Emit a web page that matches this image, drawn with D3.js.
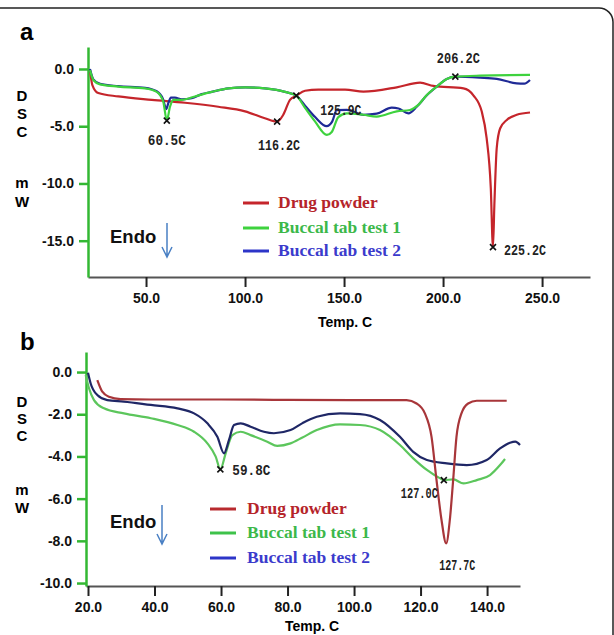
<!DOCTYPE html>
<html>
<head>
<meta charset="utf-8">
<script src="https://cdn.jsdelivr.net/npm/d3@7"></script>
<style>
  body { margin: 0; background: #fff; }
  svg { display: block; font-family: "Liberation Sans", Arial, sans-serif; }
</style>
</head>
<body>
<div id="chart"></div>
<script>
// ---- panel a data ----
const aXTicks = [50, 100, 150, 200, 250]
const aYTicks = [0, -5, -10, -15]
const aDrugT = [21.7, 22.9, 25.9, 36, 52.9, 69.7, 86.5, 100, 110, 116.2, 119.3, 122.7, 125.9, 130.3, 137, 150.5, 159.8, 176.6, 188.4, 195.1, 210.3, 215.3, 219.5, 222, 224.1, 225.2, 225.9, 227.1, 228.8, 232.2, 237.2, 243.9]
const aDrugV = [-0.1, -1.4, -2.1, -2.4, -2.7, -2.95, -3.3, -3.7, -4.3, -4.6, -4.0, -2.7, -2.33, -1.9, -1.8, -1.8, -1.98, -1.6, -1.2, -1.48, -1.7, -2.3, -3.7, -6.05, -10.4, -15.56, -11.9, -6.9, -5.2, -4.45, -4.0, -3.8]
const aTest1T = [21.7, 23.4, 26.8, 36, 49.5, 55.4, 58.7, 60.5, 62.1, 63.8, 68, 74.7, 83.2, 91.6, 100, 110.1, 120.2, 125.9, 130.3, 135.4, 141.3, 143.8, 147.1, 151.4, 159.8, 166.5, 176.6, 183.3, 187.5, 191.8, 196.8, 201.9, 206.2, 218.7, 243.9]
const aTest1V = [-0.1, -0.96, -1.34, -1.54, -1.7, -2.0, -2.85, -4.5, -3.3, -2.7, -2.7, -2.4, -2.0, -1.7, -1.6, -1.7, -2.0, -2.33, -3.4, -4.6, -5.76, -5.5, -4.2, -3.87, -4.0, -4.16, -3.7, -3.58, -3.14, -2.27, -1.54, -0.87, -0.67, -0.58, -0.52]
const aTest2T = [21.7, 23.4, 26.8, 36, 49.5, 55.4, 58.5, 60.3, 61.2, 62.6, 64.6, 68, 73.1, 78.1, 83.2, 91.6, 100, 110.1, 120.2, 125.9, 130.3, 135.4, 141.2, 144, 146.3, 151.4, 159.8, 166.5, 174.1, 177.5, 182.5, 186.7, 191.8, 196.8, 201.9, 206.2, 218.7, 227.1, 237.2, 241, 243.9]
const aTest2V = [0, -0.9, -1.3, -1.5, -1.65, -1.95, -2.6, -3.5, -3.0, -2.5, -2.5, -2.65, -2.56, -2.2, -2.0, -1.7, -1.6, -1.7, -2.0, -2.33, -3.2, -4.2, -5.0, -4.6, -3.6, -3.58, -4.0, -3.9, -3.38, -3.45, -3.87, -3.3, -2.3, -1.54, -0.87, -0.67, -0.76, -0.87, -1.25, -1.28, -0.96]
const aMarkT = [60.5, 116.2, 125.9, 206.2, 225.2]
const aMarkV = [-4.51, -4.6, -2.33, -0.67, -15.56]

// ---- panel b data ----
const bXTicks = [20, 40, 60, 80, 100, 120, 140]
const bYTicks = [0, -2, -4, -6, -8, -10]
const bDrugT = [22.8, 24.3, 26.3, 29.8, 38.9, 60, 80, 100, 115.8, 118.8, 121.3, 123.3, 124.8, 126.3, 127.7, 128.8, 129.8, 130.8, 132.3, 134.3, 136.9, 145.9]
const bDrugV = [-0.38, -0.93, -1.17, -1.28, -1.3, -1.3, -1.32, -1.33, -1.33, -1.49, -1.96, -3.07, -5.12, -7.01, -8.12, -7.01, -5.12, -3.07, -1.96, -1.49, -1.36, -1.36]
const bTest1T = [19.3, 20.3, 21.8, 24.8, 30.8, 38.9, 46.9, 51.9, 55.9, 58.4, 59.8, 61.4, 63.4, 65.9, 68.9, 73.9, 76.9, 80.9, 84.5, 88.8, 95.8, 101.8, 107.8, 113.8, 117.8, 121.9, 125.9, 127, 129.9, 132.9, 136.9, 140.9, 143.9, 145.4]
const bTest1V = [-0.14, -0.77, -1.33, -1.72, -1.96, -2.19, -2.51, -2.83, -3.38, -4.01, -4.61, -3.85, -2.99, -2.83, -2.99, -3.3, -3.5, -3.38, -3.1, -2.75, -2.48, -2.51, -2.75, -3.46, -4.09, -4.64, -5.04, -5.12, -5.09, -5.28, -5.12, -4.88, -4.41, -4.12]
const bTest2T = [20, 20.8, 22.8, 25.8, 30.8, 38.9, 46.9, 51.9, 55.9, 58.9, 60.9, 62.4, 63.9, 65.9, 68.9, 72.9, 75.9, 80.9, 84.5, 88.8, 95.8, 101.8, 107.8, 113.8, 117.8, 121.9, 127.9, 133.9, 139.9, 143.9, 146.9, 148.5, 149.9]
const bTest2V = [-0.03, -0.54, -1.09, -1.33, -1.4, -1.56, -1.72, -1.96, -2.43, -3.07, -3.85, -3.22, -2.51, -2.43, -2.59, -2.83, -2.9, -2.75, -2.42, -2.12, -1.96, -1.99, -2.27, -3.07, -3.78, -4.17, -4.33, -4.41, -4.17, -3.62, -3.35, -3.3, -3.46]
const bMarkT = [59.8, 127.0, 127.7]
const bMarkV = [-4.61, -5.12, -8.12]

const legendNames = ["Drug powder", "Buccal tab test 1", "Buccal tab test 2"]

// ---- layout / style ----
const width = 614
const height = 635

// plain hyphen minus, like the original plot
const fmt = d => d3.format(".1f")(d).replace("\u2212", "-")

const svg = d3.select("#chart")
    .append("svg")
    .attr("width", width)
    .attr("height", height)

// outer rounded frame
svg.append("rect")
    .attr("x", -14).attr("y", 8)
    .attr("width", 627).attr("height", 700)
    .attr("rx", 14)
    .style("fill", "none")
    .style("stroke", "#222")
    .style("stroke-width", 1.5)

const panels = [
  {
    letter: "a", letterPos: [20, 40],
    xDomain: [20.7, 274.2], xRange: [88, 590],
    yDomain: [-18.17, 1.92], yRange: [277, 47],
    xTicks: aXTicks, yTicks: aYTicks,
    series: [
      {t: aDrugT, v: aDrugV, color: "#c5252b"},
      {t: aTest2T, v: aTest2V, color: "#1f2a96"},
      {t: aTest1T, v: aTest1V, color: "#3ed23e"}
    ],
    legendColors: ["#c5252b", "#3ed23e", "#2d35c8"],
    legendTextColors: ["#b5242a", "#3cb84a", "#3b3bcc"],
    legendX: 243, legendY: [203, 228, 251], legendTextX: 278,
    marks: {t: aMarkT, v: aMarkV},
    markLayout: [
      {dx: 0, dy: 24, anchor: "middle", len: 38, show: true},
      {dx: 2, dy: 28, anchor: "middle", len: 42, show: true},
      {dx: 24, dy: 19, anchor: "start", len: 41, show: true},
      {dx: 3, dy: -14, anchor: "middle", len: 43, show: true},
      {dx: 11, dy: 8, anchor: "start", len: 42, show: true}
    ],
    dscX: 22, dscY: [101, 119, 137], mwY: [188, 207],
    endo: [110, 243], arrow: [167, 223, 257],
    xLabel: [345, 327]
  },
  {
    letter: "b", letterPos: [20, 350],
    xDomain: [19.4, 149.9], xRange: [86, 520],
    yDomain: [-10.14, 0.95], yRange: [586, 352],
    xTicks: bXTicks, yTicks: bYTicks,
    series: [
      {t: bTest1T, v: bTest1V, color: "#5cc65c"},
      {t: bTest2T, v: bTest2V, color: "#1f2766"},
      {t: bDrugT, v: bDrugV, color: "#a8363a"}
    ],
    legendColors: ["#b82a2e", "#3ec24a", "#2d35c8"],
    legendTextColors: ["#b5242a", "#3cb84a", "#3b3bcc"],
    legendX: 210, legendY: [509, 533, 558], legendTextX: 247,
    marks: {t: bMarkT, v: bMarkV},
    markLayout: [
      {dx: 12, dy: 6, anchor: "start", len: 38, show: true},
      {dx: -6, dy: 18, anchor: "end", len: 37, show: true},
      {dx: 11, dy: 27, anchor: "middle", len: 36, show: false}
    ],
    dscX: 22, dscY: [407, 424, 441], mwY: [495, 513],
    endo: [110, 528], arrow: [162, 505, 544],
    xLabel: [312, 631]
  }
]

panels.forEach(drawPanel)

function drawPanel(p) {
  const x = d3.scaleLinear().domain(p.xDomain).range(p.xRange)
  const y = d3.scaleLinear().domain(p.yDomain).range(p.yRange)
  const g = svg.append("g")

  // panel letter
  g.append("text")
      .attr("x", p.letterPos[0]).attr("y", p.letterPos[1])
      .style("font-size", "24px").style("font-weight", "bold")
      .text(p.letter)

  // x axis
  const xAxis = g.append("g")
      .attr("transform", `translate(0, ${p.yRange[0]})`)
      .call(d3.axisBottom(x).tickValues(p.xTicks).tickFormat(fmt)
          .tickSize(10).tickSizeOuter(0).tickPadding(6))
  xAxis.select(".domain").style("stroke", "#555").style("stroke-width", 2)
  xAxis.selectAll(".tick line").style("stroke", "#222").style("stroke-width", 2)
  xAxis.selectAll("text").style("font-size", "14px").style("font-weight", "bold")
      .style("fill", "#111").style("font-family", "'Liberation Sans', Arial, sans-serif")

  // y axis
  const yAxis = g.append("g")
      .attr("transform", `translate(${p.xRange[0]}, 0)`)
      .call(d3.axisLeft(y).tickValues(p.yTicks).tickFormat(fmt)
          .tickSize(9).tickSizeOuter(0).tickPadding(5))
  yAxis.select(".domain").style("stroke", "#33b833").style("stroke-width", 2.5)
  yAxis.selectAll(".tick line").style("stroke", "#33b833").style("stroke-width", 2.5)
  yAxis.selectAll("text").style("font-size", "14px").style("font-weight", "bold")
      .style("fill", "#111").style("font-family", "'Liberation Sans', Arial, sans-serif")

  // axis titles
  const dsc = ["D", "S", "C"]
  dsc.forEach((c, i) => {
    g.append("text").attr("x", p.dscX).attr("y", p.dscY[i])
        .attr("text-anchor", "middle")
        .style("font-size", "15px").style("font-weight", "bold").text(c)
  })
  const mw = ["m", "W"]
  mw.forEach((c, i) => {
    g.append("text").attr("x", p.dscX).attr("y", p.mwY[i])
        .attr("text-anchor", "middle")
        .style("font-size", "15px").style("font-weight", "bold").text(c)
  })
  g.append("text")
      .attr("x", p.xLabel[0]).attr("y", p.xLabel[1])
      .attr("text-anchor", "middle")
      .style("font-size", "14px").style("font-weight", "bold")
      .text("Temp. C")

  // curves
  const line = d3.line()
      .x(d => x(d[0]))
      .y(d => y(d[1]))
      .curve(d3.curveMonotoneX)
  p.series.forEach(s => {
    g.append("path")
        .datum(d3.zip(s.t, s.v))
        .attr("d", line)
        .style("fill", "none")
        .style("stroke", s.color)
        .style("stroke-width", 2.2)
        .style("stroke-linejoin", "round")
  })

  // peak markers and labels
  p.marks.t.forEach((t, i) => {
    const L = p.markLayout[i]
    const px = x(t), py = y(p.marks.v[i])
    if (L.show) {
      g.append("path")
          .attr("d", `M${px-3},${py-3}L${px+3},${py+3}M${px-3},${py+3}L${px+3},${py-3}`)
          .style("stroke", "#111").style("stroke-width", 1.6)
    }
    g.append("text")
        .attr("x", px + L.dx).attr("y", py + L.dy)
        .attr("text-anchor", L.anchor)
        .attr("textLength", L.len)
        .attr("lengthAdjust", "spacingAndGlyphs")
        .style("font-family", "'Liberation Mono', 'DejaVu Sans Mono', monospace")
        .style("font-size", "14px").style("font-weight", "bold")
        .style("fill", "#222")
        .text(t.toFixed(1) + "C")
  })

  // legend
  legendNames.forEach((name, i) => {
    g.append("line")
        .attr("x1", p.legendX).attr("x2", p.legendX + 26)
        .attr("y1", p.legendY[i]).attr("y2", p.legendY[i])
        .style("stroke", p.legendColors[i]).style("stroke-width", 3)
    g.append("text")
        .attr("x", p.legendTextX).attr("y", p.legendY[i] + 5)
        .style("font-family", "'Liberation Serif', 'Times New Roman', serif")
        .style("font-size", "17.5px").style("font-weight", "bold")
        .style("fill", p.legendTextColors[i])
        .text(name)
  })

  // Endo arrow
  g.append("text")
      .attr("x", p.endo[0]).attr("y", p.endo[1])
      .style("font-size", "18.5px").style("font-weight", "bold")
      .style("fill", "#111")
      .text("Endo")
  const ax = p.arrow[0], ay1 = p.arrow[1], ay2 = p.arrow[2]
  g.append("path")
      .attr("d", `M${ax},${ay1}L${ax},${ay2}M${ax-5},${ay2-10}L${ax},${ay2}L${ax+5},${ay2-10}`)
      .style("fill", "none")
      .style("stroke", "#4a80c4")
      .style("stroke-width", 1.5)
}
</script>
</body>
</html>
